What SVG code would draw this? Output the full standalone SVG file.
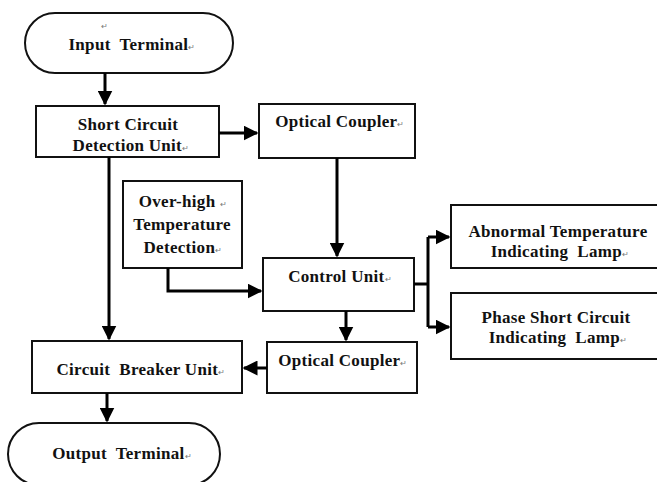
<svg xmlns="http://www.w3.org/2000/svg" width="657" height="482" viewBox="0 0 657 482">
<style>
.box{fill:#fff;stroke:#111;stroke-width:2}
.t{font-family:"Liberation Serif","Times New Roman",serif;font-weight:bold;font-size:17px;letter-spacing:0.3px;fill:#111;text-anchor:middle;white-space:pre}
.pm{font-size:8px;fill:#777;font-weight:normal}
.c{fill:none;stroke:#000;stroke-width:3}
</style>
<defs>
<marker id="ah" markerWidth="5" markerHeight="5" refX="4.5" refY="2.5" orient="auto" markerUnits="strokeWidth">
<path d="M0,0 L5,2.5 L0,5 Z" fill="#000"/>
</marker>
</defs>
<g id="input-terminal">
<rect class="box" x="25" y="13" width="208" height="60" rx="30" ry="30"/>
<text class="t pm" x="105" y="29">↵</text>
<text class="t" x="132" y="50">Input  Terminal<tspan class="pm">↵</tspan></text>
</g>
<g id="short-circuit-detection">
<rect class="box" x="36" y="106" width="183" height="51"/>
<text class="t" x="128" y="130">Short Circuit</text>
<text class="t" x="131" y="151">Detection Unit<tspan class="pm">↵</tspan></text>
</g>
<g id="optical-coupler-1">
<rect class="box" x="259" y="104" width="156" height="54"/>
<text class="t" x="340" y="127">Optical Coupler<tspan class="pm">↵</tspan></text>
</g>
<g id="over-high-temperature">
<rect class="box" x="123" y="181" width="119" height="87"/>
<text class="t" x="183" y="207">Over-high <tspan class="pm">↵</tspan></text>
<text class="t" x="182" y="230">Temperature</text>
<text class="t" x="183" y="253">Detection<tspan class="pm">↵</tspan></text>
</g>
<g id="control-unit">
<rect class="box" x="263" y="258" width="151" height="53"/>
<text class="t" x="340" y="282">Control Unit<tspan class="pm">↵</tspan></text>
</g>
<g id="abnormal-temperature-lamp">
<rect class="box" x="451" y="205" width="210" height="63"/>
<text class="t" x="558" y="237">Abnormal Temperature</text>
<text class="t" x="560" y="257">Indicating  Lamp<tspan class="pm">↵</tspan></text>
</g>
<g id="phase-short-circuit-lamp">
<rect class="box" x="451" y="293" width="210" height="66"/>
<text class="t" x="556" y="323">Phase Short Circuit</text>
<text class="t" x="558" y="343">Indicating  Lamp<tspan class="pm">↵</tspan></text>
</g>
<g id="circuit-breaker-unit">
<rect class="box" x="32" y="341" width="210" height="52"/>
<text class="t" x="141" y="375">Circuit  Breaker Unit<tspan class="pm">↵</tspan></text>
</g>
<g id="optical-coupler-2">
<rect class="box" x="267" y="342" width="150" height="51"/>
<text class="t" x="343" y="366">Optical Coupler<tspan class="pm">↵</tspan></text>
</g>
<g id="output-terminal">
<rect class="box" x="8" y="423" width="212" height="62" rx="31" ry="31"/>
<text class="t" x="122" y="459">Output  Terminal<tspan class="pm">↵</tspan></text>
</g>
<g id="connectors">
<line class="c" x1="105" y1="73" x2="105" y2="104" marker-end="url(#ah)"/>
<line class="c" x1="219" y1="133" x2="257" y2="133" marker-end="url(#ah)"/>
<line class="c" x1="337" y1="158" x2="337" y2="256" marker-end="url(#ah)"/>
<polyline class="c" points="168,268 168,291 261,291" marker-end="url(#ah)"/>
<line class="c" x1="109" y1="157" x2="109" y2="339" marker-end="url(#ah)"/>
<polyline class="c" points="414,284 428,284"/>
<polyline class="c" points="428,237 428,327"/>
<line class="c" x1="428" y1="237" x2="449" y2="237" marker-end="url(#ah)"/>
<line class="c" x1="428" y1="327" x2="449" y2="327" marker-end="url(#ah)"/>
<line class="c" x1="346" y1="311" x2="346" y2="340" marker-end="url(#ah)"/>
<line class="c" x1="267" y1="368" x2="244" y2="368" marker-end="url(#ah)"/>
<line class="c" x1="107" y1="393" x2="107" y2="421" marker-end="url(#ah)"/>
</g>
</svg>
